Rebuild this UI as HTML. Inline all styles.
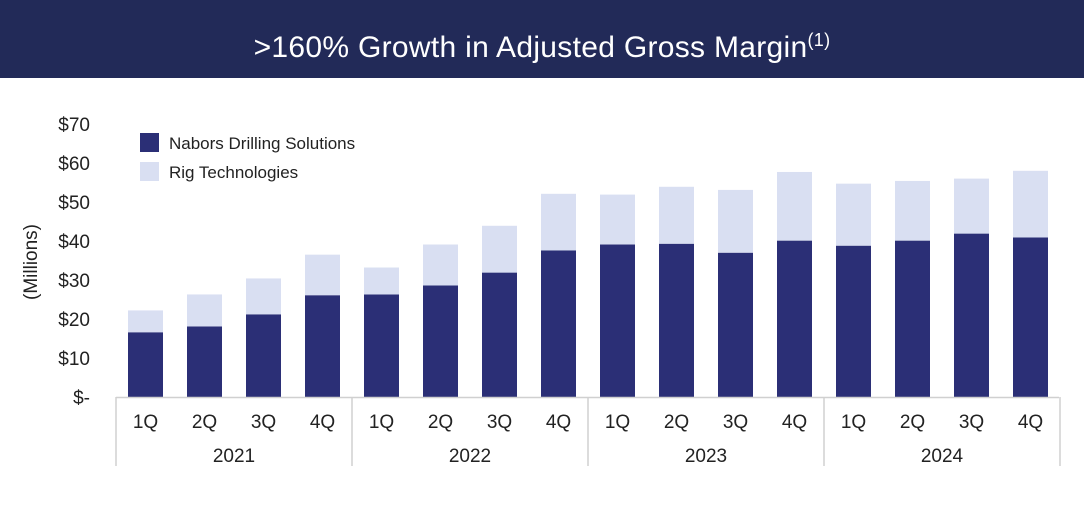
<!DOCTYPE html>
<html><head><meta charset="utf-8"><style>
body{margin:0;width:1084px;height:522px;background:#fff;overflow:hidden;font-family:"Liberation Sans",sans-serif}
#title{position:absolute;left:0;top:0;width:1084px;height:78px;background:#222a58;color:#fff;font-size:30px;text-align:center;line-height:80px;letter-spacing:0.3px}
#title sup{font-size:18px}
</style></head><body>
<div id="title">&gt;160% Growth in Adjusted Gross Margin<sup>(1)</sup></div>
<svg id="chart" width="1084" height="522" style="position:absolute;left:0;top:0"></svg>
<script>
const quarters=["1Q","2Q","3Q","4Q","1Q","2Q","3Q","4Q","1Q","2Q","3Q","4Q","1Q","2Q","3Q","4Q"];
const years=["2021","2022","2023","2024"];
const nds=[16.6,18.1,21.2,26.1,26.3,28.6,31.9,37.6,39.1,39.3,37.0,40.1,38.8,40.1,41.9,40.9];
const rig=[5.6,8.2,9.2,10.4,6.9,10.5,12.0,14.5,12.8,14.6,16.1,17.6,15.9,15.3,14.1,17.1];
const ticks=[0,10,20,30,40,50,60,70];
const tickLabels=["$-","$10","$20","$30","$40","$50","$60","$70"];
const svg=document.getElementById('chart');const NS="http://www.w3.org/2000/svg";
const y0=397,ppu=(397-124)/70;
function y(v){return y0-v*ppu;}
function x(i){return 116+29.5+i*59;}
function mk(t,a,p){const e=document.createElementNS(NS,t);for(const k in a)e.setAttribute(k,a[k]);(p||svg).appendChild(e);return e;}
ticks.forEach((t,i)=>{const e=mk('text',{x:90,y:y(t)+7,'text-anchor':'end','font-size':19,fill:'#222'});e.textContent=tickLabels[i];

});
const yt=mk('text',{x:0,y:0,transform:'translate(37,262) rotate(-90)','text-anchor':'middle','font-size':19,fill:'#222'});yt.textContent='(Millions)';


const bw=35;
nds.forEach((v,i)=>{const tot=v+rig[i];
const a=mk('rect',{x:x(i)-bw/2,y:y(v),width:bw,height:y0-y(v),fill:'#2b2f76'});


const b=mk('rect',{x:x(i)-bw/2,y:y(tot),width:bw,height:y(v)-y(tot),fill:'#d9dff2'});


const q=mk('text',{x:x(i),y:428,'text-anchor':'middle','font-size':19,fill:'#222'});q.textContent=quarters[i];

});
mk('line',{x1:116,x2:1059,y1:y0+0.5,y2:y0+0.5,stroke:'#d0d0d0','stroke-width':1.5});
for(let k=0;k<=4;k++){const xx=116+k*236;mk('line',{x1:xx,x2:xx,y1:y0,y2:466,stroke:'#d0d0d0','stroke-width':1.5});}
years.forEach((yr,k)=>{const e=mk('text',{x:116+k*236+118,y:462,'text-anchor':'middle','font-size':19,fill:'#222'});e.textContent=yr;

});
const l1=mk('rect',{x:140,y:133,width:19,height:19,fill:'#2b2f76'});


const t1=mk('text',{x:169,y:149,'font-size':17,fill:'#222'});t1.textContent='Nabors Drilling Solutions';


const l2=mk('rect',{x:140,y:162,width:19,height:19,fill:'#d9dff2'});


const t2=mk('text',{x:169,y:178,'font-size':17,fill:'#222'});t2.textContent='Rig Technologies';


</script>
</body></html>
